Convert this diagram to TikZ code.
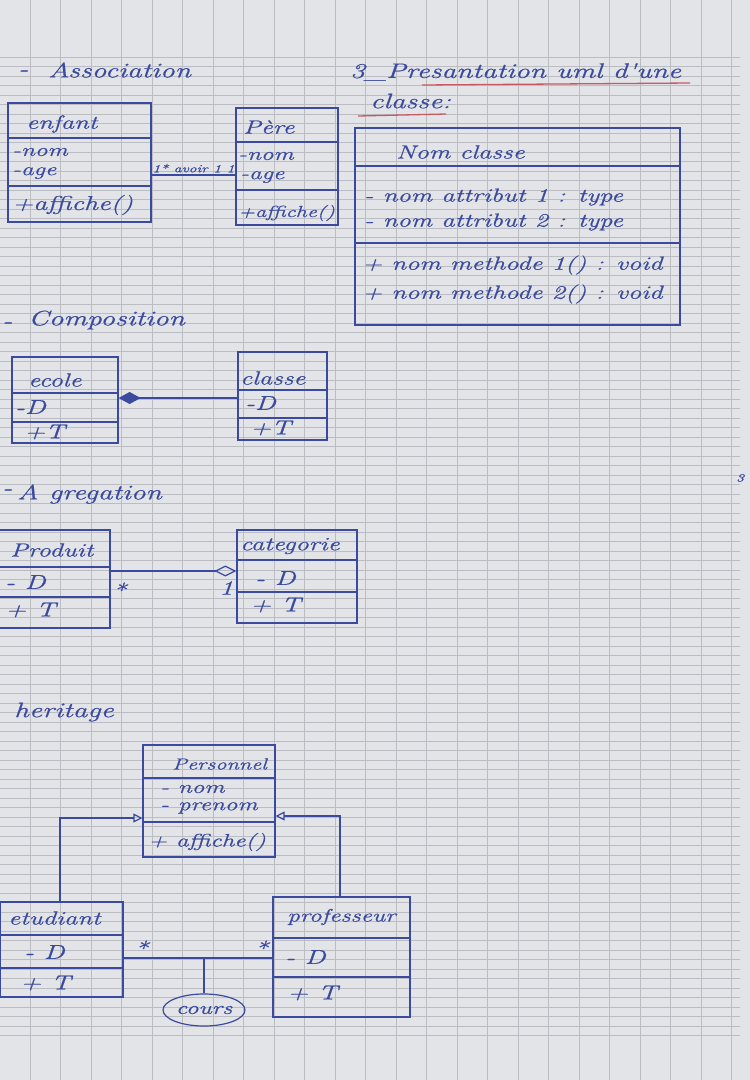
\documentclass[tikz,border=0pt]{standalone}
\usepackage{fontspec}
\usetikzlibrary{arrows.meta,fit,shapes.geometric}

% wide, slightly heavy italic for the pen-written notes
\newfontfamily\handfont[FakeStretch=1.4, FakeBold=0.7]{Latin Modern Roman}

\definecolor{paper}{HTML}{E3E4E7}
\definecolor{rulecol}{HTML}{BBBDC3}
\definecolor{ink}{HTML}{3A4A9E}
\definecolor{redink}{HTML}{C65A62}

\newcommand\pen[1]{\handfont\itshape\fontsize{#1}{#1}\selectfont}

\tikzset{
  box/.style={draw=ink, line width=1.2pt, inner sep=0pt, rectangle},
  sep/.style={draw=ink, line width=1.1pt},
  link/.style={draw=ink, line width=1.2pt},
  hand/.style={text=ink, inner sep=0pt, anchor=west, font=\pen{20}},
  title/.style={hand, font=\pen{21}},
  cname/.style={hand, font=\pen{19}},
  small/.style={hand, font=\pen{11}},
  redline/.style={draw=redink, line width=1.3pt},
  gridline/.style={draw=rulecol, line width=0.6pt},
}

% class box: name, x1, y1, x2, y2, y of header rule, y of member rule
\newcommand\umlclass[7]{%
  \node[box, fit={(#2,#3) (#4,#5)}] (#1) {};
  \draw[sep] (#1.west |- 0,#6) -- (#1.east |- 0,#6);
  \draw[sep] (#1.west |- 0,#7) -- (#1.east |- 0,#7);
}

\begin{document}
\begin{tikzpicture}[x=1pt, y=-1pt]
  \useasboundingbox (0,0) rectangle (750,1080);

  % squared notebook paper
  \fill[paper] (0,0) rectangle (750,1080);
  \foreach \i in {0,...,103}
    \draw[gridline] (0,57+\i*9.5) -- (740,57+\i*9.5);
  \foreach \x in {30,60.5,...,740}
    \draw[gridline] (\x,0) -- (\x,1080);

  % ---------------- Association ----------------
  \node[title] (t-assoc-dash) at (18,73) {-};
  \node[title] (t-assoc) at (48,70) {Association};

  \umlclass{enfant}{8}{103}{151}{222}{138}{186}
  \node[cname] (enfant-n) at (26,124) {enfant};
  \node[hand, font=\pen{18}] (enfant-a1) at (12,152) {-nom};
  \node[hand, font=\pen{18}] (enfant-a2) at (12,173) {-age};
  \node[hand] (enfant-m1) at (12,205) {+affiche()};

  \umlclass{pere}{236}{108}{338}{225}{142}{190}
  \node[cname] (pere-n) at (243,127) {Père};
  \node[hand, font=\pen{18}] (pere-a1) at (238,156) {-nom};
  \node[hand, font=\pen{18}] (pere-a2) at (240,177) {-age};
  \node[hand, font=\pen{16}] (pere-m1) at (238,213) {+affiche()};

  \draw[link] (enfant.east |- 0,175) -- (pere.west |- 0,175)
    node[small, anchor=south, midway, yshift=2pt] (assoc-lbl) {1* avoir 1 1};

  % ---------------- Composition ----------------
  \node[title] (t-comp-dash) at (2,325) {-};
  \node[title] (t-comp) at (28,320) {Composition};

  \umlclass{ecole}{12}{357}{118}{443}{393}{422}
  \node[cname] (ecole-n) at (28,380) {ecole};
  \node[hand] (ecole-a1) at (15,407) {-D};
  \node[hand] (ecole-m1) at (24,432) {+T};

  \umlclass{classe}{238}{352}{327}{440}{390}{418}
  \node[cname] (classe-n) at (240,378) {classe};
  \node[hand] (classe-a1) at (245,403) {-D};
  \node[hand] (classe-m1) at (250,428) {+T};

  \draw[link, {Diamond[fill=ink, length=22pt, width=12pt]}-]
    (ecole.east |- 0,398) -- (classe.west |- 0,398);

  % ---------------- Agregation ----------------
  \node[title] (t-agr-dash) at (2,492) {-};
  \node[title] (t-agr) at (17,494) {A gregation};

  \umlclass{produit}{-2}{530}{110}{628}{567}{597}
  \node[cname] (produit-n) at (10,550) {Produit};
  \node[hand] (produit-a1) at (5,582) {- D};
  \node[hand] (produit-m1) at (5,610) {+ T};

  \umlclass{categorie}{237}{530}{357}{623}{560}{592}
  \node[cname] (categorie-n) at (240,546) {categorie};
  \node[hand] (categorie-a1) at (255,578) {- D};
  \node[hand] (categorie-m1) at (250,605) {+ T};

  \draw[link, -{Diamond[open, length=22pt, width=11pt]}]
    (produit.east |- 0,571) -- (categorie.west |- 0,571);
  \node[hand] (agr-many) at (112,590) {*};
  \node[hand] (agr-one) at (219,588) {1};

  % ---------------- heritage ----------------
  \node[title] (t-her) at (14,712) {heritage};

  \umlclass{personnel}{143}{745}{275}{857}{778}{822}
  \node[hand, font=\pen{16}] (personnel-n) at (172,764) {Personnel};
  \node[hand, font=\pen{18}] (personnel-a1) at (160,789) {- nom};
  \node[hand, font=\pen{18}] (personnel-a2) at (160,808) {- prenom};
  \node[hand, font=\pen{18}] (personnel-m1) at (148,842) {+ affiche()};

  \umlclass{etudiant}{0}{902}{123}{997}{935}{968}
  \node[cname] (etudiant-n) at (8,918) {etudiant};
  \node[hand] (etudiant-a1) at (24,952) {- D};
  \node[hand] (etudiant-m1) at (20,983) {+ T};

  \umlclass{professeur}{273}{897}{410}{1017}{938}{977}
  \node[hand, font=\pen{18}] (professeur-n) at (287,917) {professeur};
  \node[hand] (professeur-a1) at (285,957) {- D};
  \node[hand] (professeur-m1) at (287,993) {+ T};

  \draw[link, -{Triangle[open, length=9pt, width=9pt]}]
    (etudiant.north -| 60,0) |- (personnel.west |- 0,818);
  \draw[link, -{Triangle[open, length=9pt, width=9pt]}]
    (professeur.north -| 340,0) |- (personnel.east |- 0,816);

  \draw[link] (etudiant.east |- 0,958) -- (professeur.west |- 0,958);
  \node[hand] (her-many-l) at (134,948) {*};
  \node[hand] (her-many-r) at (254,948) {*};

  \node[draw=ink, line width=1.2pt, ellipse, minimum width=82pt,
        minimum height=32pt, inner sep=0pt, text=ink,
        font=\pen{18}] (cours) at (204,1010) {cours};
  \draw[link] (cours.north) -- (cours.north |- 0,958);

  % ---------------- class template ----------------
  \node[title] (t-pres) at (350,72) {3\_Presantation uml d'une};
  \node[title] (t-pres2) at (370,101) {classe:};
  \draw[redline] (422,85) -- (690,83);
  \draw[redline] (358,116) -- (446,114);

  \node[box, fit={(355,128) (680,325)}] (nomclasse) {};
  \draw[sep] (nomclasse.west |- 0,166) -- (nomclasse.east |- 0,166);
  \draw[sep] (nomclasse.west |- 0,243) -- (nomclasse.east |- 0,243);
  \node[hand, font=\pen{19}] (nc-n) at (396,152) {Nom classe};
  \node[hand, font=\pen{19}] (nc-a1) at (364,197) {- nom attribut 1 : type};
  \node[hand, font=\pen{19}] (nc-a2) at (364,222) {- nom attribut 2 : type};
  \node[hand, font=\pen{19}] (nc-m1) at (362,265) {+ nom methode 1() : void};
  \node[hand, font=\pen{19}] (nc-m2) at (362,294) {+ nom methode 2() : void};

  % page number in the margin
  \node[small] (pagenum) at (736,478) {3};
\end{tikzpicture}
\end{document}
